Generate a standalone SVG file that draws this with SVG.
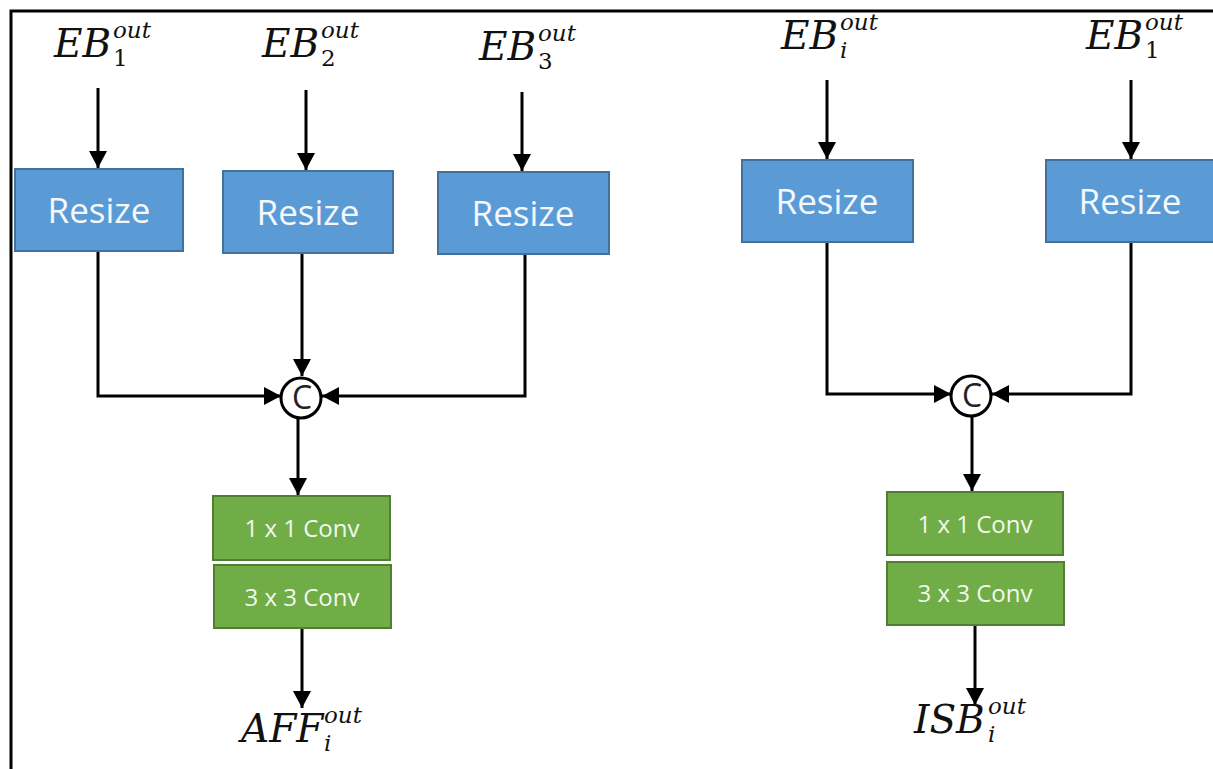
<svg xmlns="http://www.w3.org/2000/svg" width="1213" height="769" viewBox="0 0 1213 769">
<defs>
<marker id="ah" markerUnits="userSpaceOnUse" markerWidth="18" markerHeight="18" refX="17" refY="9" orient="auto">
<path d="M0,0 L17,9 L0,18 Z" fill="#000"/>
</marker>
<style>
.blue{fill:#5B9BD5;stroke:#41719C;stroke-width:2}
.green{fill:#70AD47;stroke:#507E32;stroke-width:2}
.rt{font-family:"Open Sans","Liberation Sans",sans-serif;font-size:35px;fill:#F4F8FC;text-anchor:middle}
.ct{font-family:"Open Sans","Liberation Sans",sans-serif;font-size:24px;fill:#F2F8EE;text-anchor:middle}
.m{font-family:"DejaVu Serif","Liberation Serif",serif;font-style:italic;font-size:39px;fill:#111}
.s{font-family:"DejaVu Serif","Liberation Serif",serif;font-style:italic;font-size:23px;fill:#111}
.n{font-family:"DejaVu Serif","Liberation Serif",serif;font-size:23px;fill:#111}
.ln{fill:none;stroke:#000;stroke-width:3}
.cc{fill:#fff;stroke:#000;stroke-width:3}
.ctx{font-family:"Open Sans","Liberation Sans",sans-serif;font-size:32px;fill:#222;text-anchor:middle}
</style>
</defs>
<rect width="1213" height="769" fill="#fff"/>
<path d="M11,769 L11,11 L1213,11" fill="none" stroke="#000" stroke-width="3"/>

<g id="connectors">
<line class="ln" x1="98" y1="88" x2="98" y2="168" marker-end="url(#ah)"/>
<line class="ln" x1="306" y1="90" x2="306" y2="170" marker-end="url(#ah)"/>
<line class="ln" x1="522" y1="92" x2="522" y2="171" marker-end="url(#ah)"/>
<line class="ln" x1="827" y1="80" x2="827" y2="159" marker-end="url(#ah)"/>
<line class="ln" x1="1131" y1="80" x2="1131" y2="159" marker-end="url(#ah)"/>
<polyline class="ln" points="98,251 98,396 281,396" marker-end="url(#ah)"/>
<line class="ln" x1="302" y1="253" x2="302" y2="376" marker-end="url(#ah)"/>
<polyline class="ln" points="525,254 525,396 322,396" marker-end="url(#ah)"/>
<line class="ln" x1="298" y1="418" x2="298" y2="495" marker-end="url(#ah)"/>
<line class="ln" x1="302" y1="628" x2="302" y2="708" marker-end="url(#ah)"/>
<polyline class="ln" points="827,242 827,394 951,394" marker-end="url(#ah)"/>
<polyline class="ln" points="1131,242 1131,394 992,394" marker-end="url(#ah)"/>
<line class="ln" x1="972" y1="416" x2="972" y2="491" marker-end="url(#ah)"/>
<line class="ln" x1="975" y1="625" x2="975" y2="705" marker-end="url(#ah)"/>
</g>

<g id="in-eb1">
<text class="m" x="54" y="57">EB</text><text class="s" x="113" y="38">out</text><text class="n" x="113" y="66">1</text>
</g>
<g id="in-eb2">
<text class="m" x="262" y="57">EB</text><text class="s" x="321" y="38">out</text><text class="n" x="321" y="66">2</text>
</g>
<g id="in-eb3">
<text class="m" x="479" y="60">EB</text><text class="s" x="538" y="41">out</text><text class="n" x="538" y="69">3</text>
</g>
<g id="in-ebi">
<text class="m" x="781" y="49">EB</text><text class="s" x="840" y="30">out</text><text class="s" x="840" y="58">i</text>
</g>
<g id="in-eb1r">
<text class="m" x="1086" y="49">EB</text><text class="s" x="1145" y="30">out</text><text class="n" x="1145" y="58">1</text>
</g>

<g id="resize1"><rect class="blue" x="15" y="169" width="168" height="82"/><text class="rt" x="99" y="223">Resize</text></g>
<g id="resize2"><rect class="blue" x="223" y="171" width="170" height="82"/><text class="rt" x="308" y="225">Resize</text></g>
<g id="resize3"><rect class="blue" x="438" y="172" width="171" height="82"/><text class="rt" x="523" y="226">Resize</text></g>
<g id="resize4"><rect class="blue" x="742" y="160" width="171" height="82"/><text class="rt" x="827" y="214">Resize</text></g>
<g id="resize5"><rect class="blue" x="1046" y="160" width="168" height="82"/><text class="rt" x="1130" y="214">Resize</text></g>

<g id="concat1"><circle class="cc" cx="301" cy="398" r="20"/><text class="ctx" x="302" y="409">C</text></g>
<g id="concat2"><circle class="cc" cx="971" cy="396" r="20"/><text class="ctx" x="972" y="407">C</text></g>

<g id="conv1a"><rect class="green" x="213" y="496" width="177" height="64"/><text class="ct" x="302" y="537">1 x 1 Conv</text></g>
<g id="conv1b"><rect class="green" x="214" y="565" width="177" height="63"/><text class="ct" x="302" y="606">3 x 3 Conv</text></g>
<g id="conv2a"><rect class="green" x="887" y="492" width="176" height="63"/><text class="ct" x="975" y="533">1 x 1 Conv</text></g>
<g id="conv2b"><rect class="green" x="887" y="562" width="177" height="63"/><text class="ct" x="975" y="602">3 x 3 Conv</text></g>

<g id="out-aff">
<text class="m" x="241" y="742">AFF</text><text class="s" x="324" y="723">out</text><text class="s" x="324" y="751">i</text>
</g>
<g id="out-isb">
<text class="m" x="914" y="733">ISB</text><text class="s" x="988" y="714">out</text><text class="s" x="988" y="742">i</text>
</g>
</svg>
